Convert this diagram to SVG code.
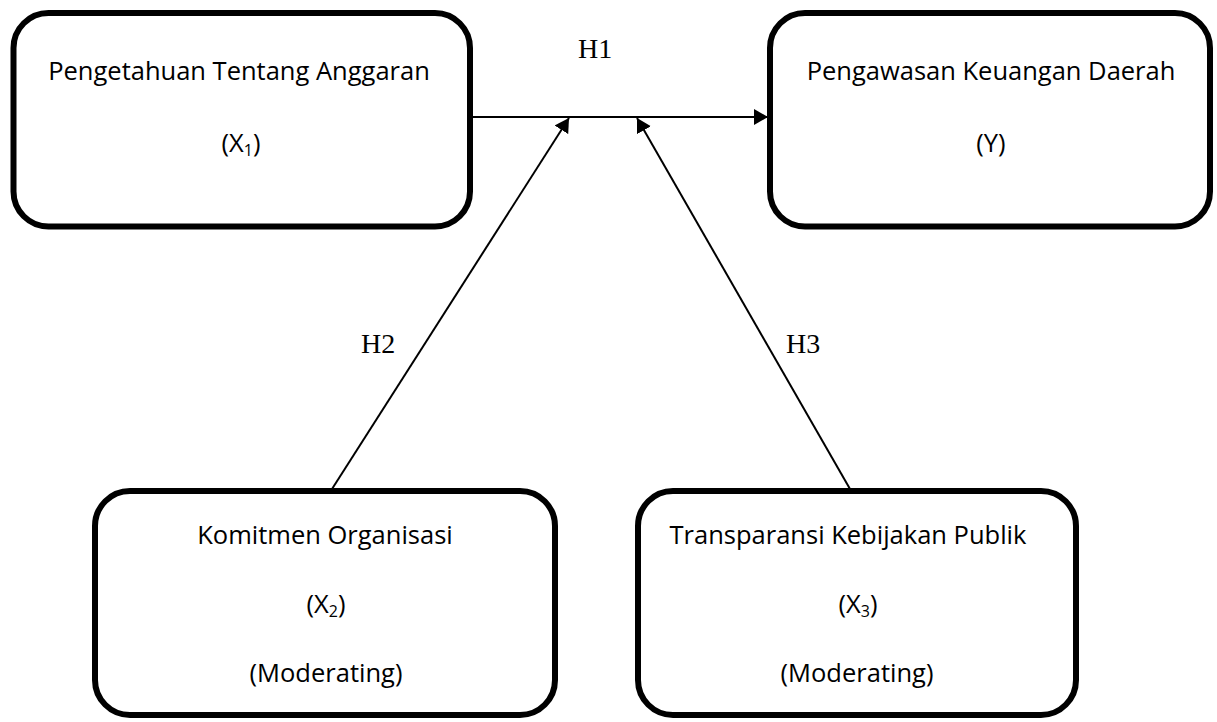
<svg xmlns="http://www.w3.org/2000/svg" width="1217" height="722" viewBox="0 0 1217 722">
<defs>
<style>
.box{fill:#fff;stroke:#000;stroke-width:6}
.t{font-family:"Open Sans","Liberation Sans",sans-serif;font-size:25.5px;fill:#000;text-anchor:middle}
.sub{font-size:16px}
.h{font-family:"Liberation Serif","Times New Roman",serif;font-size:28px;fill:#000}
.c{stroke:#000;stroke-width:2;fill:none}
</style>
<marker id="ah" viewBox="0 0 14 16" refX="14" refY="8" markerWidth="14" markerHeight="16" markerUnits="userSpaceOnUse" orient="auto">
<path d="M0,0 L14,8 L0,16 Z" fill="#000"/>
</marker>
</defs>
<rect width="1217" height="722" fill="#fff"/>
<g id="connectors">
<line class="c" x1="473" y1="117" x2="768" y2="117" marker-end="url(#ah)"/>
<line class="c" x1="332" y1="489" x2="569" y2="118" marker-end="url(#ah)"/>
<line class="c" x1="850" y1="489" x2="637" y2="118" marker-end="url(#ah)"/>
<text class="h" x="578" y="58">H1</text>
<text class="h" x="361" y="353">H2</text>
<text class="h" x="786" y="353">H3</text>
</g>
<g id="node-x1">
<rect class="box" x="13.5" y="13" width="456.5" height="213.5" rx="35"/>
<text class="t" x="239" y="80">Pengetahuan Tentang Anggaran</text>
<text class="t" x="241" y="152">(X<tspan class="sub" dy="4">1</tspan><tspan dy="-4">)</tspan></text>
</g>
<g id="node-y">
<rect class="box" x="770" y="13" width="440" height="213.5" rx="35"/>
<text class="t" x="991" y="80">Pengawasan Keuangan Daerah</text>
<text class="t" x="991" y="152">(Y)</text>
</g>
<g id="node-x2">
<rect class="box" x="95" y="491" width="460" height="224" rx="35"/>
<text class="t" x="325" y="544">Komitmen Organisasi</text>
<text class="t" x="326" y="613">(X<tspan class="sub" dy="4">2</tspan><tspan dy="-4">)</tspan></text>
<text class="t" x="326" y="682">(Moderating)</text>
</g>
<g id="node-x3">
<rect class="box" x="638" y="491" width="438" height="224" rx="35"/>
<text class="t" x="848" y="544">Transparansi Kebijakan Publik</text>
<text class="t" x="858" y="613">(X<tspan class="sub" dy="4">3</tspan><tspan dy="-4">)</tspan></text>
<text class="t" x="857" y="682">(Moderating)</text>
</g>
</svg>
